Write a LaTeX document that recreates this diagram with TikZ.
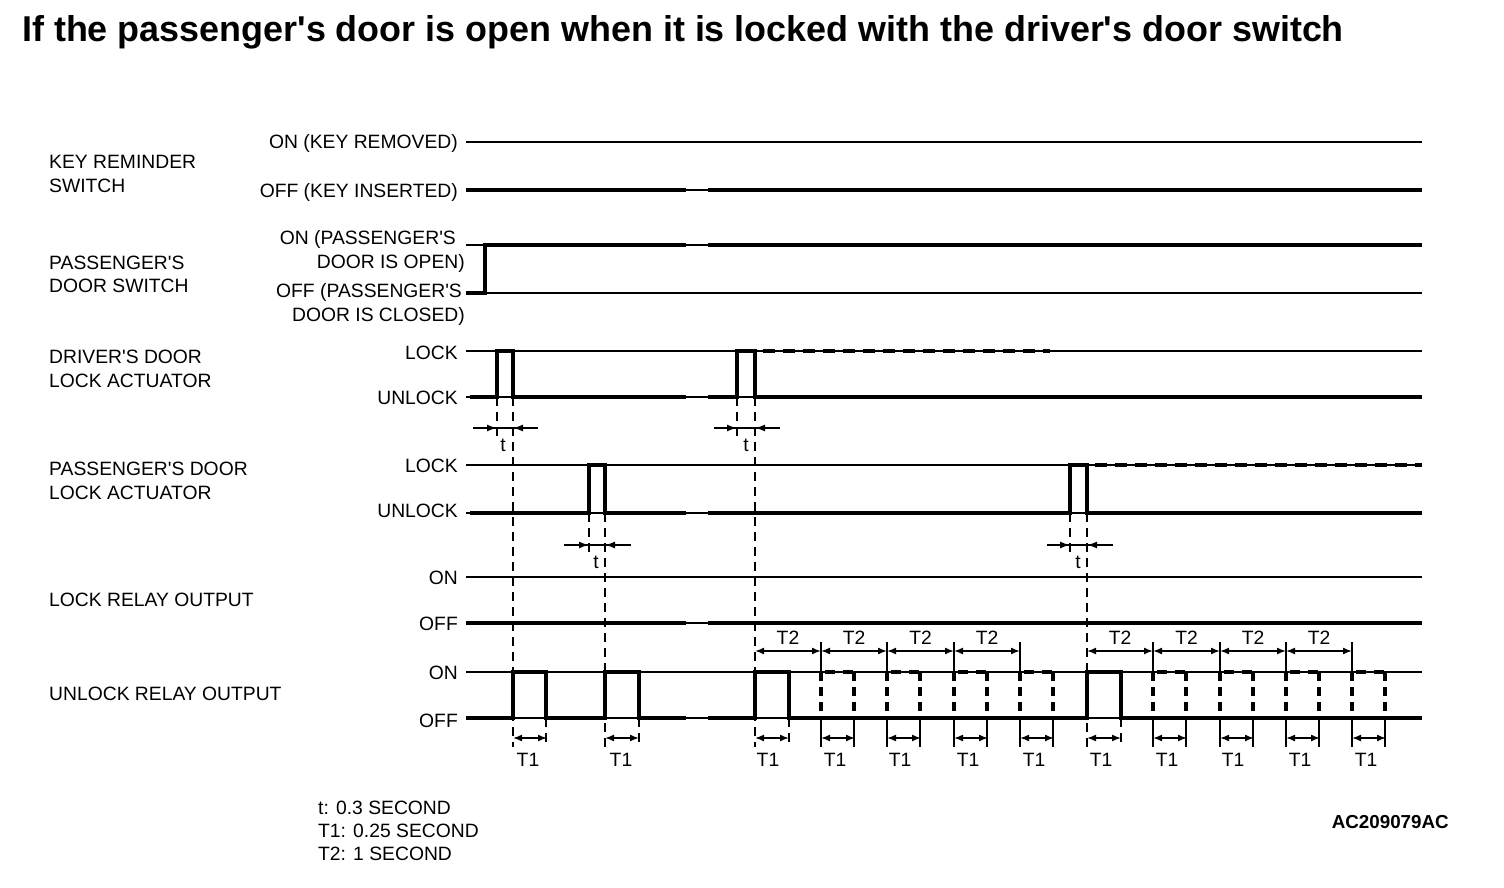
\documentclass[tikz,border=0pt]{standalone}
\usepackage{fontspec}
\setmainfont{Liberation Sans}[Ligatures=TeXOff]
\usetikzlibrary{arrows.meta}
\begin{document}
\begin{tikzpicture}[x=1pt,y=-1pt,
  thinl/.style={line width=1.6pt},
  thickl/.style={line width=4.5pt, line join=miter},
  dsh/.style={line width=1.6pt, dash pattern=on 9pt off 6pt},
  dshthick/.style={line width=4pt, dash pattern=on 12pt off 8pt},
  dshvert/.style={line width=4pt, dash pattern=on 9pt off 6pt},
  dim/.style={line width=1.6pt, -{Latex[length=10pt,width=7pt]}},
  dimb/.style={line width=1.6pt, {Latex[length=9pt,width=7pt]}-{Latex[length=9pt,width=7pt]}},
  lbl/.style={font=\fontsize{19.3}{21}\selectfont, inner sep=0pt, anchor=base west},
  lvl/.style={font=\fontsize{19.3}{21}\selectfont, inner sep=0pt, anchor=base east},
  tl/.style={font=\fontsize{19.3}{21}\selectfont, inner sep=0pt, anchor=center},
]
\useasboundingbox[fill=white] (0,0) rectangle (1504,888);

% title
\node[font=\bfseries\fontsize{35.9}{38}\selectfont, inner sep=0pt, anchor=base west] (title) at (22,42) {If the passenger's door is open when it is locked with the driver's door switch};

% left labels
\node[lbl] (k1) at (49,168) {KEY REMINDER};
\node[lbl] (k2) at (49,192) {SWITCH};
\node[lbl] (p1) at (49,269) {PASSENGER'S};
\node[lbl] (p2) at (49,292) {DOOR SWITCH};
\node[lbl] (d1) at (49,363) {DRIVER'S DOOR};
\node[lbl] (d2) at (49,387) {LOCK ACTUATOR};
\node[lbl] (q1) at (49,475) {PASSENGER'S DOOR};
\node[lbl] (q2) at (49,499) {LOCK ACTUATOR};
\node[lbl] (lr) at (49,606) {LOCK RELAY OUTPUT};
\node[lbl] (ur) at (49,700) {UNLOCK RELAY OUTPUT};

% level labels
\node[lvl] (l1) at (458,148) {ON (KEY REMOVED)};
\node[lvl] (l2) at (458,197) {OFF (KEY INSERTED)};
\node[lvl] (l3) at (456,244) {ON (PASSENGER'S};
\node[lvl] (l4) at (465,268) {DOOR IS OPEN)};
\node[lvl] (l5) at (462,297) {OFF (PASSENGER'S};
\node[lvl] (l6) at (465,321) {DOOR IS CLOSED)};
\node[lvl] (l7) at (458,359) {LOCK};
\node[lvl] (l8) at (458,404) {UNLOCK};
\node[lvl] (l9) at (458,472) {LOCK};
\node[lvl] (l10) at (458,517) {UNLOCK};
\node[lvl] (l11) at (458,584) {ON};
\node[lvl] (l12) at (458,630) {OFF};
\node[lvl] (l13) at (458,679) {ON};
\node[lvl] (l14) at (458,727) {OFF};

% key reminder switch
\draw[thinl] (466,142) -- (1422,142);
\draw[thinl] (466,190) -- (1422,190);
\draw[thickl] (466,190) -- (686,190);
\draw[thickl] (708,190) -- (1422,190);

% passenger's door switch
\draw[thinl] (466,245) -- (1422,245);
\draw[thinl] (466,293) -- (1422,293);
\draw[thickl] (466,293) -- (485,293) -- (485,245) -- (686,245);
\draw[thickl] (708,245) -- (1422,245);

% driver's door lock actuator
\draw[thinl] (466,351) -- (1422,351);
\draw[thinl] (466,397) -- (1422,397);
\draw[thickl] (470,397) -- (497,397) -- (497,351) -- (513,351) -- (513,397) -- (686,397);
\draw[thickl] (708,397) -- (737,397) -- (737,351) -- (755,351) -- (755,397) -- (1422,397);
\draw[dshthick] (763,351) -- (1050,351);

% passenger's door lock actuator
\draw[thinl] (466,465) -- (1422,465);
\draw[thinl] (466,513) -- (1422,513);
\draw[thickl] (470,513) -- (589,513) -- (589,465) -- (605,465) -- (605,513) -- (686,513);
\draw[thickl] (708,513) -- (1070,513) -- (1070,465) -- (1087,465) -- (1087,513) -- (1422,513);
\draw[dshthick] (1095,465) -- (1422,465);

% lock relay output
\draw[thinl] (466,577) -- (1422,577);
\draw[thinl] (466,623) -- (1422,623);
\draw[thickl] (466,623) -- (686,623);
\draw[thickl] (708,623) -- (1422,623);

% dashed guide lines
\draw[dsh] (497,397) -- (497,440);
\draw[dsh] (737,397) -- (737,440);
\draw[dsh] (589,513) -- (589,556);
\draw[dsh] (1070,513) -- (1070,556);
\draw[dsh] (513,397) -- (513,747);
\draw[dsh] (755,397) -- (755,747);
\draw[dsh] (605,513) -- (605,747);
\draw[dsh] (1087,513) -- (1087,747);

% unlock relay output
\draw[thinl] (466,672) -- (1422,672);
\draw[thinl] (466,718) -- (1422,718);
\draw[thickl] (466,718) -- (513,718) -- (513,672) -- (546,672) -- (546,718) -- (605,718) -- (605,672) -- (639,672) -- (639,718) -- (686,718);
\draw[thickl] (708,718) -- (755,718) -- (755,672) -- (789,672) -- (789,718) -- (1087,718) -- (1087,672) -- (1121,672) -- (1121,718) -- (1422,718);
\foreach \e in {546,639,789,1121} { \draw[dsh] (\e,718) -- (\e,747); }
\foreach \s in {821,887,954,1020,1153,1220,1286,1352} {
  \draw[dshvert] (\s,672) -- (\s,718);
  \draw[dshvert] (\s+33,672) -- (\s+33,718);
  \draw[line width=4pt, dash pattern=on 10pt off 8pt] (\s+4,672) -- (\s+33,672);
  \draw[thinl] (\s,642) -- (\s,672);
  \draw[thinl] (\s,718) -- (\s,747);
  \draw[thinl] (\s+33,718) -- (\s+33,747);
}

% t dimensions
\draw[thinl] (473,428) -- (538,428);
\draw[dim] (473,428) -- (497,428);
\draw[dim] (538,428) -- (513,428);
\node[tl] (t1) at (503,445) {t};
\draw[thinl] (714,428) -- (780,428);
\draw[dim] (714,428) -- (737,428);
\draw[dim] (780,428) -- (755,428);
\node[tl] (t2) at (746,445) {t};
\draw[thinl] (564,545) -- (631,545);
\draw[dim] (564,545) -- (589,545);
\draw[dim] (631,545) -- (605,545);
\node[tl] (t3) at (596,562) {t};
\draw[thinl] (1047,545) -- (1113,545);
\draw[dim] (1047,545) -- (1070,545);
\draw[dim] (1113,545) -- (1087,545);
\node[tl] (t4) at (1078,562) {t};

% T2 dimensions
\foreach \a/\b in {755/821,821/887,887/954,954/1020,1087/1153,1153/1220,1220/1286,1286/1352} {
  \draw[dimb] (\a,651) -- (\b,651);
  \node[tl] (T2-\a) at ({(\a+\b)/2},638) {T2};
}

% T1 dimensions
\foreach \a in {513,605,755,821,887,954,1020,1087,1153,1220,1286,1352} {
  \draw[dimb] (\a,738) -- (\a+34,738);
}
\foreach \x [count=\i] in {528,621,768,835,900,968,1034,1101,1167,1233,1300,1366} {
  \node[tl] (T1-\i) at (\x,760) {T1};
}

% legend
\node[lbl] (lg1) at (318,814) {t: 0.3 SECOND};
\node[lbl] (lg2) at (318,837) {T1: 0.25 SECOND};
\node[lbl] (lg3) at (318,860) {T2: 1 SECOND};
\node[font=\bfseries\fontsize{18.8}{20}\selectfont, inner sep=0pt, anchor=base east] (code) at (1449,828) {AC209079AC};
\end{tikzpicture}
\end{document}
